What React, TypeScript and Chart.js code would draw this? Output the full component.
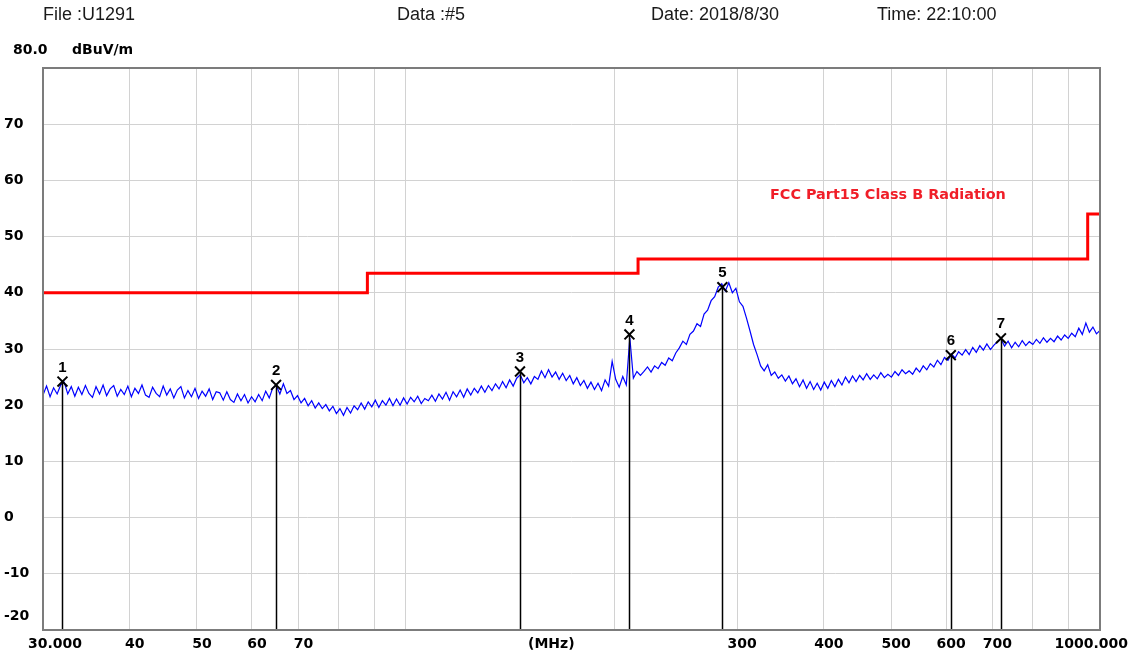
import React, { useEffect, useRef } from "react";
import { Chart, registerables } from "chart.js";

Chart.register(...registerables);

// ---- Data ----
const headerTexts = ["File :U1291", "Data :#5", "Date: 2018/8/30", "Time: 22:10:00"];
const unitY = "dBuV/m";
const topYLabel = "80.0";
const unitX = "(MHz)";
const limitName = "FCC Part15 Class B Radiation";

const FMIN = 30;
const FMAX = 1000;

// Measured level (dBuV/m), sweep from 30 MHz to 1000 MHz (log spaced)
const traceLevels = [
  21.8, 23.4, 21.5, 23.1, 22.0, 23.6, 24.1, 22.0, 23.3, 21.6,
  23.2, 21.9, 23.5, 22.1, 21.4, 23.3, 22.0, 23.6, 21.7, 22.9,
  23.5, 21.6, 22.8, 21.9, 23.4, 21.5, 23.0, 22.1, 23.6, 21.8,
  21.4, 23.2, 22.1, 21.5, 23.4, 21.8, 22.9, 21.3, 22.7, 23.3,
  21.3, 22.6, 21.5, 23.0, 21.2, 22.5, 21.6, 22.9, 21.0, 22.4,
  22.2, 20.9, 22.4, 21.0, 20.5, 22.0, 20.8, 21.9, 20.4, 21.5,
  20.6, 21.9, 20.8, 22.5, 21.3, 23.1, 23.5, 22.0, 23.8, 22.1,
  22.6, 21.0, 21.7, 20.4, 21.2, 19.9, 20.8, 19.5, 20.4, 19.4,
  20.1, 19.0, 19.8, 18.5, 19.4, 18.2, 19.6, 18.6, 19.9, 19.2,
  20.4, 19.3, 20.6, 19.7, 20.9, 19.6, 20.8, 20.0, 21.2, 19.9,
  21.1, 20.0, 21.3, 20.2, 21.4, 20.6, 21.6, 20.3, 21.2, 20.8,
  21.8, 20.7, 22.0, 21.1, 22.3, 20.9, 22.4, 21.5, 22.7, 21.4,
  22.9, 21.8, 23.0, 22.2, 23.4, 22.3, 23.5, 22.6, 23.8, 22.9,
  24.2, 23.1, 24.5, 23.4, 24.8, 25.4, 24.0, 24.9, 23.8, 25.1,
  24.6, 26.1, 24.9, 26.3, 25.0, 25.9, 24.6, 25.7, 24.4, 25.3,
  23.8, 24.9, 23.5, 24.4, 23.0, 24.1, 22.8, 23.9, 22.6, 24.5,
  23.4, 27.8, 24.6, 23.2, 25.1, 23.6, 32.0, 24.8, 26.0, 25.3,
  26.0, 26.8, 25.9, 27.0, 26.5, 27.6, 27.1, 28.4, 27.9, 29.3,
  30.2, 31.4, 30.8, 32.6, 33.2, 34.5, 34.0, 36.2, 36.9, 38.6,
  39.3, 41.0, 41.6, 40.3, 41.8, 40.0, 40.8, 38.4, 37.6, 35.5,
  33.2, 30.8, 29.0, 27.0, 26.1, 27.2, 25.3, 25.9, 24.8, 25.4,
  24.3, 25.2, 23.8, 24.7, 23.3, 24.5, 23.0, 24.2, 22.8, 23.9,
  22.7, 24.1, 23.0, 24.4, 23.3, 24.6, 23.6, 25.0, 24.0, 25.2,
  24.2, 25.3, 24.5, 25.6, 24.6, 25.4, 24.7, 25.8, 24.9, 25.5,
  25.0, 26.0, 25.3, 26.3, 25.6, 26.1, 25.5, 26.6, 25.9, 27.0,
  26.3, 27.4, 26.8, 28.0, 27.2, 28.5, 28.0, 29.1, 28.4, 29.5,
  28.9, 29.9, 29.0, 30.3, 29.4, 30.6, 29.8, 30.9, 29.9, 30.7,
  31.3, 31.8, 30.5, 31.4, 30.2, 31.2, 30.4, 31.5, 30.6, 31.3,
  30.8, 31.7, 31.0, 32.0, 31.2, 31.9, 31.3, 32.3, 31.6, 32.5,
  31.9, 32.8, 32.2, 33.7, 32.6, 34.6, 33.0, 33.9, 32.7, 33.3,
];

// Limit line (FCC Part 15 Class B)
const limitFreqs = [30, 88, 88, 216, 216, 960, 960, 1000];
const limitLevels = [40, 40, 43.5, 43.5, 46, 46, 54, 54];

// Markers
const markerNumbers = ["1", "2", "3", "4", "5", "6", "7"];
const markerFreqs = [32.0, 65.0, 146.0, 209.9, 285.7, 609.6, 720.0];
const markerLevels = [24.2, 23.6, 26.0, 32.6, 41.0, 28.9, 31.9];

// Axes
const gridFreqs = [30, 40, 50, 60, 70, 80, 90, 100, 200, 300, 400, 500, 600, 700, 800, 900, 1000];
const xLabelFreqs = [30, 40, 50, 60, 70, 300, 400, 500, 600, 700, 1000];
const xLabelTexts = ["30.000", "40", "50", "60", "70", "300", "400", "500", "600", "700", "1000.000"];
const unitXFreq = 162;
const yTickValues = [70, 60, 50, 40, 30, 20, 10, 0, -10, -20];
const Y_MIN = -20;
const Y_MAX = 80;

const traceFreqs = traceLevels.map(
  (_, i) => FMIN * Math.pow(FMAX / FMIN, i / (traceLevels.length - 1))
);

const BOLD = "bold 14px 'DejaVu Sans'";

const overlayPlugin = {
  id: "overlay",
  afterDatasetsDraw(chart: any) {
    const { ctx, chartArea, scales } = chart;
    const xs = scales.x;
    const ys = scales.y;
    ctx.save();
    ctx.strokeStyle = "#000";
    ctx.lineWidth = 1.5;
    markerFreqs.forEach((f, i) => {
      const px = Math.round(xs.getPixelForValue(f)) + 0.5;
      const py = ys.getPixelForValue(markerLevels[i]);
      ctx.beginPath();
      ctx.moveTo(px, py);
      ctx.lineTo(px, chartArea.bottom);
      ctx.stroke();
    });
    ctx.restore();
  },
  afterDraw(chart: any) {
    const { ctx, chartArea, scales } = chart;
    const xs = scales.x;
    const ys = scales.y;
    ctx.save();
    // frame
    ctx.strokeStyle = "#7c7c7c";
    ctx.lineWidth = 2;
    ctx.strokeRect(chartArea.left, chartArea.top, chartArea.right - chartArea.left, chartArea.bottom - chartArea.top);

    // header
    ctx.fillStyle = "#1a1a1a";
    ctx.font = "18px 'Liberation Sans', Arial, sans-serif";
    ctx.textBaseline = "middle";
    ctx.textAlign = "left";
    const hx = [43, 397, 651, 877];
    headerTexts.forEach((t, i) => ctx.fillText(t, hx[i], 15));

    // y unit
    ctx.fillStyle = "#000";
    ctx.font = BOLD;
    ctx.fillText(topYLabel, 13, 50);
    ctx.fillText(unitY, 72, 50);

    // y labels
    yTickValues.forEach((v) => {
      let py = ys.getPixelForValue(v);
      if (v === Y_MIN) py -= 14;
      ctx.fillText(String(v), 4, py);
    });

    // x labels
    const ly = 644;
    xLabelFreqs.forEach((f, i) => {
      const px = xs.getPixelForValue(f);
      if (i === 0) {
        ctx.textAlign = "left";
        ctx.fillText(xLabelTexts[i], px - 15, ly);
      } else if (i === xLabelFreqs.length - 1) {
        ctx.textAlign = "right";
        ctx.fillText(xLabelTexts[i], px + 28, ly);
      } else {
        ctx.textAlign = "center";
        ctx.fillText(xLabelTexts[i], px + 5, ly);
      }
    });
    ctx.textAlign = "center";
    ctx.fillText(unitX, xs.getPixelForValue(unitXFreq), ly);

    // limit name
    ctx.fillStyle = "#f01e28";
    ctx.textAlign = "left";
    ctx.font = "bold 14.4px 'DejaVu Sans'";
    ctx.fillText(limitName, 770, 195);

    // marker numbers
    ctx.fillStyle = "#000";
    ctx.textAlign = "center";
    ctx.font = "bold 15px 'Liberation Sans', Arial, sans-serif";
    markerFreqs.forEach((f, i) => {
      const px = xs.getPixelForValue(f);
      const py = ys.getPixelForValue(markerLevels[i]);
      ctx.fillText(markerNumbers[i], px, py - 14);
    });
    ctx.restore();
  },
};

export default function App() {
  const ref = useRef<HTMLCanvasElement | null>(null);
  useEffect(() => {
    document.body.style.margin = "0";
    const canvas = ref.current!;
    const chart = new Chart(canvas, {
      type: "scatter",
      data: {
        datasets: [
          {
            label: "Level",
            data: traceFreqs.map((f, i) => ({ x: f, y: traceLevels[i] })),
            showLine: true,
            borderColor: "#0000ff",
            borderWidth: 1.2,
            pointRadius: 0,
            order: 2,
          },
          {
            label: limitName,
            data: limitFreqs.map((f, i) => ({ x: f, y: limitLevels[i] })),
            showLine: true,
            borderColor: "#ff0000",
            borderWidth: 3,
            pointRadius: 0,
            order: 1,
          },
          {
            label: "Markers",
            data: markerFreqs.map((f, i) => ({ x: f, y: markerLevels[i] })),
            showLine: false,
            pointStyle: "crossRot",
            pointRadius: 7,
            borderColor: "#000",
            backgroundColor: "#000",
            pointBorderWidth: 2,
            borderWidth: 2,
            order: 0,
          },
        ],
      },
      options: {
        responsive: false,
        animation: false,
        events: [],
        layout: { padding: { left: 43, top: 68, right: 36, bottom: 28 } },
        plugins: { legend: { display: false }, tooltip: { enabled: false } },
        scales: {
          x: {
            type: "logarithmic",
            min: FMIN,
            max: FMAX,
            afterBuildTicks: (scale: any) => {
              scale.ticks = gridFreqs.map((v) => ({ value: v }));
            },
            ticks: { display: false },
            grid: { color: "#d2d2d2", lineWidth: 1, drawTicks: false },
            border: { display: false },
          },
          y: {
            type: "linear",
            min: Y_MIN,
            max: Y_MAX,
            ticks: { display: false, stepSize: 10 },
            grid: { color: "#d2d2d2", lineWidth: 1, drawTicks: false },
            border: { display: false },
          },
        },
      },
      plugins: [overlayPlugin],
    });
    return () => chart.destroy();
  }, []);
  return (
    <div style={{ position: "absolute", left: 0, top: 0, width: 1136, height: 658, background: "#fff" }}>
      <canvas ref={ref} width={1136} height={658} style={{ display: "block" }} />
    </div>
  );
}
